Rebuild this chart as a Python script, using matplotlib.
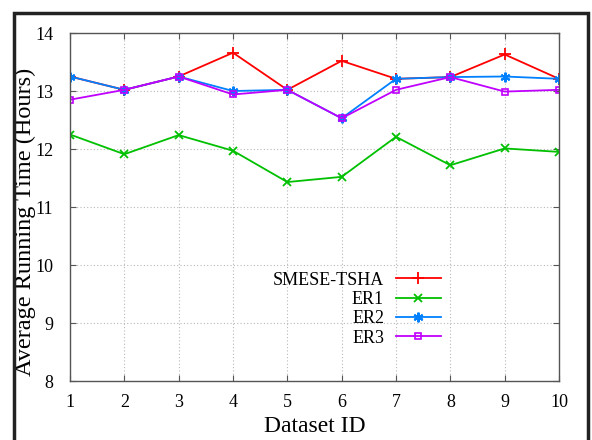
import numpy as np
import matplotlib
matplotlib.use('Agg')
import matplotlib.pyplot as plt
from matplotlib.patches import Rectangle

plt.rcParams.update({
    'font.family': 'Liberation Serif',
    'font.size': 12,
})

# data
dataset_id = [1, 2, 3, 4, 5, 6, 7, 8, 9, 10]
smese_tsha = [13.25, 13.02, 13.25, 13.66, 13.02, 13.52, 13.21, 13.24, 13.63, 13.21]
er1 = [12.25, 11.91, 12.24, 11.97, 11.43, 11.52, 12.21, 11.72, 12.01, 11.95]
er2 = [13.25, 13.02, 13.25, 13.00, 13.02, 12.53, 13.21, 13.24, 13.25, 13.21]
er3 = [12.85, 13.02, 13.25, 12.94, 13.02, 12.53, 13.02, 13.24, 12.99, 13.02]

y_ticks = [8, 9, 10, 11, 12, 13, 14]

fig = plt.figure(figsize=(5.92, 4.4), dpi=100)
ax = fig.add_axes([70 / 592, 1 - 381 / 440, 489 / 592, 348 / 440])

ax.plot(dataset_id, smese_tsha, color='#ff0000', marker='+', ms=8, mew=1.3, lw=1.3, label='SMESE-TSHA')
ax.plot(dataset_id, er1, color='#00c000', marker='x', ms=6, mew=1.3, lw=1.3, label='ER1')
ax.plot(dataset_id, er2, color='#0080ff', marker=(6, 2, 0), ms=7, mew=1.5, lw=1.3, label='ER2')
ax.plot(dataset_id, er3, color='#c000ff', marker='s', ms=5, mfc='none', mew=1.2, lw=1.3, label='ER3')

ax.set_xlim(1, 10)
ax.set_ylim(8, 14)
ax.set_xticks(dataset_id)
ax.set_yticks(y_ticks)
ax.grid(True, color='#b8b8b8', linestyle=(0, (1, 2)), linewidth=0.8)
ax.tick_params(direction='in', top=True, right=True, length=4, labelsize=13, color='#555555')
ax.tick_params(axis='x', pad=9)
ax.tick_params(axis='y', pad=12)
for sp in ax.spines.values():
    sp.set_color('#555555')
    sp.set_linewidth(1.0)

ax.set_xlabel('Dataset ID', fontsize=17)
ax.set_ylabel('Average Running Time (Hours)', fontsize=17.5)
ax.xaxis.set_label_coords(0.5, -35 / 348)
ax.yaxis.set_label_coords(-34 / 489, 0.457)

ax.legend(loc='upper right', bbox_to_anchor=(380 / 489, 0.34), markerfirst=False, frameon=False,
          fontsize=13, handlelength=2.5, handletextpad=0.65, labelspacing=0.13, borderpad=0)

# outer frame around the figure
fig.patches.append(Rectangle((14 / 592, -0.05), 574 / 592, 1 - 13 / 440 + 0.05,
                             transform=fig.transFigure, fill=False, lw=2.5, ec='#222222'))

fig.savefig('out.png', dpi=100)
